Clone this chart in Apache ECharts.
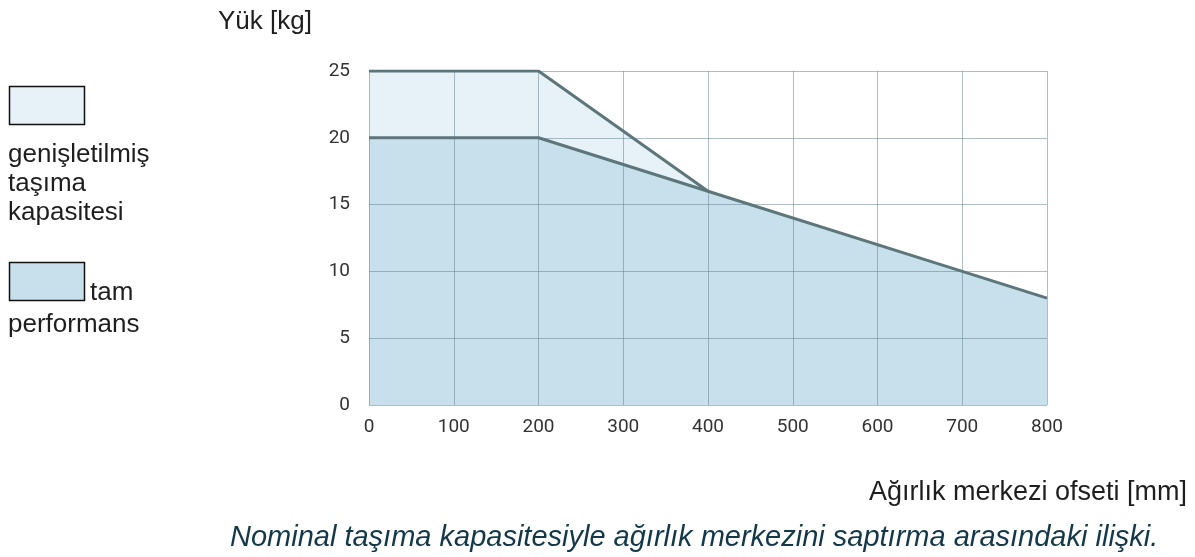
<!DOCTYPE html>
<html>
<head>
<meta charset="utf-8">
<script src="https://cdn.jsdelivr.net/npm/echarts@6/dist/echarts.min.js"></script>
<style>
  html, body { margin: 0; padding: 0; background: #fff; }
  #chart { width: 1195px; height: 557px; }
</style>
</head>
<body>
<div id="chart"></div>
<script>
// Load capacity vs. centre-of-gravity offset
const offsetsExtended = [0, 200, 400];
const loadExtended = [25, 25, 16];
const offsetsFull = [0, 200, 400, 700, 800];
const loadFull = [20, 20, 16, 10, 8];

const xTicks = [0, 100, 200, 300, 400, 500, 600, 700, 800];
const yTicks = [0, 5, 10, 15, 20, 25];

const legendExtended = ['genişletilmiş', 'taşıma', 'kapasitesi'];
const legendFull = ['tam', 'performans'];

const colExtended = '#e6f1f8';
const colFull = '#c8e0ec';
const colLine = '#5d767b';
const colGrid = 'rgba(95,125,135,0.5)';
const textFont = '"Liberation Sans", Arial, sans-serif';

const pairs = (xs, ys) => xs.map((x, i) => [x, ys[i]]);

const chart = echarts.init(document.getElementById('chart'), null, { renderer: 'canvas' });

const axisFont = { fontFamily: 'Roboto', fontSize: 19, color: '#333' };

// one line of free text, vertically centred on y
const label = (text, x, y, size, extra) => ({
  type: 'text', x: x, y: y,
  style: Object.assign({ text: text, font: size + 'px ' + textFont, fill: '#1e1e1e',
                         verticalAlign: 'middle', align: 'left' }, extra || {})
});

chart.setOption({
  animation: false,
  backgroundColor: '#fff',
  grid: { left: 369, right: 148, top: 71, bottom: 152, containLabel: false },
  xAxis: {
    type: 'value', min: xTicks[0], max: xTicks[xTicks.length - 1], interval: 100,
    z: 2,
    axisLine: { show: false }, axisTick: { show: false },
    axisLabel: Object.assign({ margin: 13 }, axisFont),
    splitLine: { show: true, lineStyle: { color: colGrid, width: 1 } }
  },
  yAxis: {
    type: 'value', min: yTicks[0], max: yTicks[yTicks.length - 1], interval: 5,
    z: 2,
    axisLine: { show: false }, axisTick: { show: false },
    axisLabel: Object.assign({ margin: 19 }, axisFont),
    splitLine: { show: true, lineStyle: { color: colGrid, width: 1 } }
  },
  series: [
    {
      name: 'genişletilmiş taşıma kapasitesi (alan)', type: 'line', z: 1,
      data: pairs(offsetsExtended, loadExtended),
      symbol: 'none', lineStyle: { width: 0 },
      areaStyle: { color: colExtended, opacity: 1 }
    },
    {
      name: 'tam performans (alan)', type: 'line', z: 1,
      data: pairs(offsetsFull, loadFull),
      symbol: 'none', lineStyle: { width: 0 },
      areaStyle: { color: colFull, opacity: 1 }
    },
    {
      name: 'genişletilmiş taşıma kapasitesi', type: 'line', z: 3,
      data: pairs(offsetsExtended, loadExtended),
      symbol: 'none', lineStyle: { width: 3, color: colLine }
    },
    {
      name: 'tam performans', type: 'line', z: 3,
      data: pairs(offsetsFull, loadFull),
      symbol: 'none', lineStyle: { width: 3, color: colLine }
    }
  ],
  graphic: [
    // axis titles
    label('Yük [kg]', 218, 22, 26),
    label('Ağırlık merkezi ofseti [mm]', 1187, 493, 27, { align: 'right' }),
    // caption
    label('Nominal taşıma kapasitesiyle ağırlık merkezini saptırma arasındaki ilişki.', 230, 538, 29,
          { font: 'italic 29px ' + textFont, fill: '#12384a' }),
    // legend: extended capacity
    { type: 'rect', shape: { x: 9.5, y: 86.5, width: 75, height: 38 },
      style: { fill: colExtended, stroke: '#111', lineWidth: 1.5 } },
    label(legendExtended[0], 8, 155, 26),
    label(legendExtended[1], 8, 184, 26),
    label(legendExtended[2], 8, 213, 26),
    // legend: full performance
    { type: 'rect', shape: { x: 9.5, y: 262.5, width: 75, height: 38 },
      style: { fill: colFull, stroke: '#111', lineWidth: 1.5 } },
    label(legendFull[0], 90, 293, 26),
    label(legendFull[1], 8, 325, 26)
  ]
});
</script>
</body>
</html>
